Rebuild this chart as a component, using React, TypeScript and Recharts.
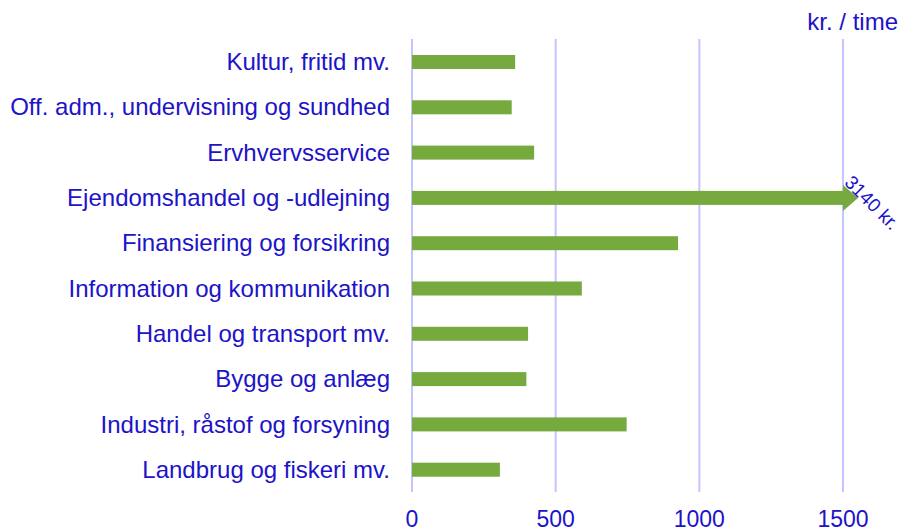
import { Bar, BarChart, CartesianGrid, XAxis, YAxis } from 'recharts';

const sectors = [
  'Kultur, fritid mv.',
  'Off. adm., undervisning og sundhed',
  'Ervhvervsservice',
  'Ejendomshandel og -udlejning',
  'Finansiering og forsikring',
  'Information og kommunikation',
  'Handel og transport mv.',
  'Bygge og anlæg',
  'Industri, råstof og forsyning',
  'Landbrug og fiskeri mv.',
];
const krPerHour = [359, 347, 425, 3140, 926, 591, 404, 398, 747, 306];
const xTicks = [0, 500, 1000, 1500];
const unitLabel = 'kr. / time';

const AXIS_MAX = 1500;
const blue = '#2012c8';
const green = '#76aa3e';
const font = 'Liberation Sans, Arial, sans-serif';

// values above the axis max are cut and shown with an arrow + real value
const rows = sectors.map((name, i) => ({
  name,
  shown: Math.min(krPerHour[i], AXIS_MAX),
  actual: krPerHour[i],
}));

const ArrowBar = (props: any) => {
  const { x, y, width, height, payload } = props;
  if (payload.actual <= AXIS_MAX) {
    return <rect x={x} y={y} width={width} height={height} fill={green} />;
  }
  const cy = y + height / 2;
  const end = x + width;
  const head = 15;
  const half = 13;
  const tx = end + 10;
  const ty = cy - 24;
  return (
    <g>
      <rect x={x} y={y} width={width} height={height} fill={green} />
      <path d={`M${end} ${cy - half}L${end + head} ${cy}L${end} ${cy + half}Z`} fill={green} />
      <text
        x={tx}
        y={ty}
        transform={`rotate(45 ${tx} ${ty})`}
        fill={blue}
        fontSize={19}
        fontFamily={font}
        dominantBaseline="hanging"
      >
        {`${payload.actual} kr.`}
      </text>
    </g>
  );
};

export default function App() {
  return (
    <div style={{ position: 'absolute', left: 0, top: 0 }}>
      <BarChart
        width={899}
        height={531}
        data={rows}
        layout="vertical"
        margin={{ top: 39, right: 56, bottom: 0, left: 0 }}
      >
        <CartesianGrid horizontal={false} stroke="#c4c4ff" strokeWidth={2} />
        <XAxis
          type="number"
          domain={[0, AXIS_MAX]}
          ticks={xTicks}
          axisLine={false}
          tickLine={false}
          tickSize={0}
          tickMargin={19}
          height={39}
          tick={{ fill: blue, fontSize: 23, fontFamily: font }}
        />
        <YAxis
          type="category"
          dataKey="name"
          width={412}
          axisLine={false}
          tickLine={false}
          tickSize={0}
          tickMargin={22}
          interval={0}
          tick={{ fill: blue, fontSize: 24, fontFamily: font }}
        />
        <Bar dataKey="shown" barSize={14} shape={ArrowBar} isAnimationActive={false} />
        <text x={898} y={30} textAnchor="end" fill={blue} fontSize={24} fontFamily={font}>
          {unitLabel}
        </text>
      </BarChart>
    </div>
  );
}
